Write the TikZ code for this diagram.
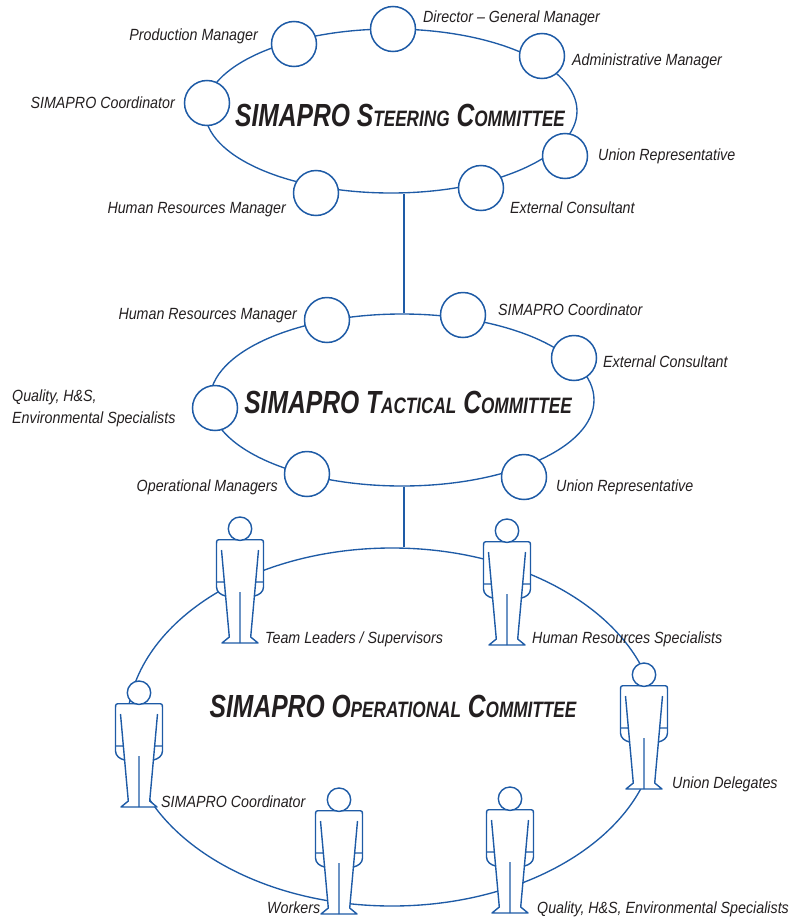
\documentclass[tikz,border=0pt]{standalone}
\usepackage{fontspec}
\setmainfont{Liberation Sans}[FakeStretch=0.88]
\newfontfamily\titlefont{Liberation Sans}[FakeStretch=0.77]
\usetikzlibrary{shapes.geometric}
\definecolor{lineblue}{RGB}{30,91,166}
\definecolor{txt}{RGB}{35,31,32}
\newcommand\mysc[1]{{\fontsize{22.3}{24}\selectfont #1}}
\begin{document}
\begin{tikzpicture}[x=1pt,y=-1pt,
  committee/.style={ellipse, draw=lineblue, line width=1.35pt, inner sep=0pt},
  member/.style={circle, draw=lineblue, fill=white, line width=1.5pt, minimum size=45pt, inner sep=0pt},
  lbl/.style={font=\fontsize{16.2}{22}\selectfont\itshape, text=txt, inner sep=0pt},
  ttl/.style={font=\titlefont\bfseries\itshape\fontsize{32}{36}\selectfont, text=txt, inner sep=0pt, anchor=base},
  link/.style={draw=lineblue, line width=1.4pt},
  person/.pic={
    \filldraw[draw=lineblue, fill=white, line width=1.4pt, line join=round]
      (-14.4,-47) .. controls (-19,-48) and (-23.5,-51) .. (-23.5,-56) -- (-23.5,-98)
      .. controls (-23.5,-103.3) .. (-18.5,-103.3) -- (18.5,-103.3)
      .. controls (23.5,-103.3) .. (23.5,-98) -- (23.5,-56)
      .. controls (23.5,-51) and (19,-48) .. (14.4,-47) -- (10.7,-6) -- (18,0) -- (-18,0) -- (-10.7,-6) -- cycle;
    \draw[lineblue, line width=1.4pt] (-18.5,-93) -- (-14.4,-47) (18.5,-93) -- (14.4,-47)
      (-23.5,-61) -- (-15.6,-61) (23.5,-61) -- (15.6,-61) (0,-51) -- (0,0);
    \filldraw[draw=lineblue, fill=white, line width=1.4pt] (0,-114.3) circle[radius=11.7pt];
  }]
\useasboundingbox (0,0) rectangle (811,918);

% committees
\node[committee, minimum width=372pt, minimum height=164pt] (steer) at (391,111) {};
\node[committee, minimum width=384pt, minimum height=172pt] (tact) at (402,400) {};
\node[committee, minimum width=530pt, minimum height=358pt] (oper) at (392,727) {};
\coordinate (axis) at (404,0);
\draw[link] (steer.south -| axis) -- (tact.north -| axis);
\draw[link] (tact.south -| axis) -- (oper.north -| axis);

% steering members
\node[member] (s1) at (294,44) {};
\node[member] (s2) at (393,29) {};
\node[member] (s3) at (542,56) {};
\node[member] (s4) at (207,103) {};
\node[member] (s5) at (565,156) {};
\node[member] (s6) at (481,188) {};
\node[member] (s7) at (316,193) {};

% tactical members
\node[member] (m1) at (327,320) {};
\node[member] (m2) at (463,315) {};
\node[member] (m3) at (574,358) {};
\node[member] (m4) at (215,408) {};
\node[member] (m5) at (307,474) {};
\node[member] (m6) at (524,477) {};

% operational members
\pic at (240,643) {person};
\pic at (507,645) {person};
\pic at (644,789) {person};
\pic at (510,913) {person};
\pic at (339,914) {person};
\pic at (139,807) {person};

% titles
\node[ttl] (t1) at (400,126) {SIMAPRO S\mysc{TEERING} C\mysc{OMMITTEE}};
\node[ttl] (t2) at (408,413) {SIMAPRO T\mysc{ACTICAL} C\mysc{OMMITTEE}};
\node[ttl] (t3) at (393,717) {SIMAPRO O\mysc{PERATIONAL} C\mysc{OMMITTEE}};

% steering labels
\node[lbl, anchor=base east] (ls1) at (258,40) {Production Manager};
\node[lbl, anchor=base west] (ls2) at (423,22) {Director -- General Manager};
\node[lbl, anchor=base west] (ls3) at (572,65) {Administrative Manager};
\node[lbl, anchor=base east] (ls4) at (175,108) {SIMAPRO Coordinator};
\node[lbl, anchor=base west] (ls5) at (598,160) {Union Representative};
\node[lbl, anchor=base west] (ls6) at (510,213) {External Consultant};
\node[lbl, anchor=base east] (ls7) at (286,213) {Human Resources Manager};

% tactical labels
\node[lbl, anchor=base east] (lt1) at (297,319) {Human Resources Manager};
\node[lbl, anchor=base west] (lt2) at (498,315) {SIMAPRO Coordinator};
\node[lbl, anchor=base west] (lt3) at (603,367) {External Consultant};
\node[lbl, anchor=north west, align=left] (lt4) at (12,390) {Quality, H\&S,\\Environmental Specialists};
\node[lbl, anchor=base east] (lt5) at (278,491) {Operational Managers};
\node[lbl, anchor=base west] (lt6) at (556,491) {Union Representative};

% operational labels
\node[lbl, anchor=base west] (lo1) at (265,643) {Team Leaders / Supervisors};
\node[lbl, anchor=base west] (lo2) at (532,643) {Human Resources Specialists};
\node[lbl, anchor=base west] (lo3) at (672,788) {Union Delegates};
\node[lbl, anchor=base west] (lo4) at (161,807) {SIMAPRO Coordinator};
\node[lbl, anchor=base west] (lo5) at (267,913) {Workers};
\node[lbl, anchor=base west] (lo6) at (537,913) {Quality, H\&S, Environmental Specialists};
\end{tikzpicture}
\end{document}
